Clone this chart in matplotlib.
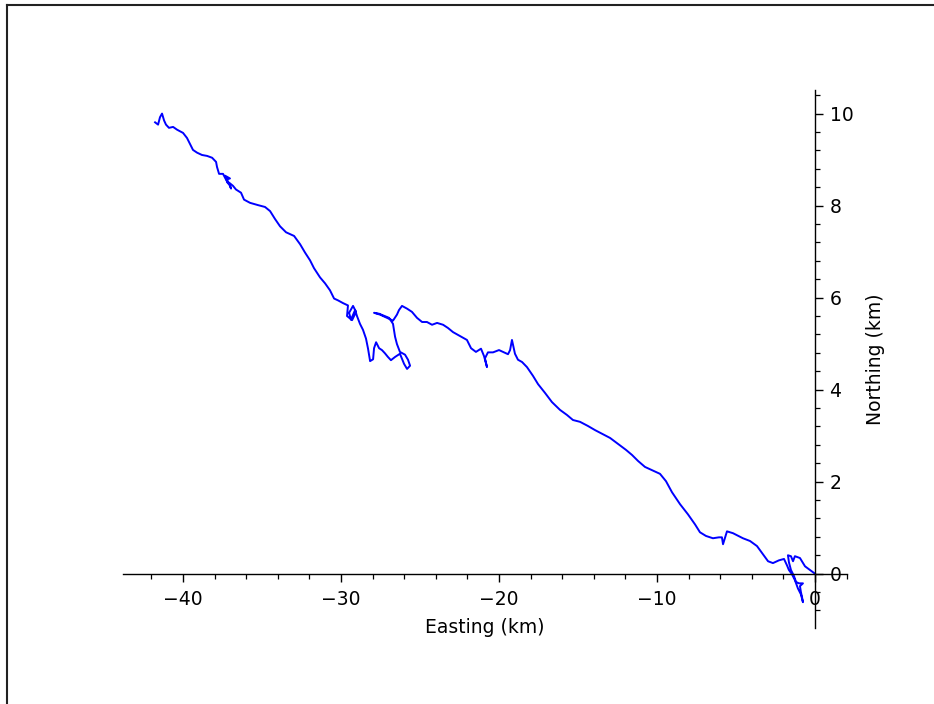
import matplotlib
matplotlib.use("Agg")
import matplotlib.pyplot as plt
from matplotlib.lines import Line2D
from matplotlib.ticker import MultipleLocator

# track, km relative to the origin
easting = [
    0.00, -0.32, -0.63, -0.95, -1.27, -1.39, -1.52, -1.71, -1.65, -1.52,
    -1.33, -1.20, -1.01, -0.76, -0.95, -0.89, -0.82, -0.76, -0.89, -1.08,
    -1.27, -1.46, -1.65, -1.77, -1.96, -2.28, -2.66, -2.97, -3.29, -3.67,
    -4.11, -4.56, -5.19, -5.57, -5.70, -5.82, -5.89, -6.08, -6.46, -6.90,
    -7.28, -7.59, -8.04, -8.54, -9.05, -9.43, -9.81, -10.32, -10.76, -11.20,
    -11.58, -11.96, -12.47, -12.97, -13.48, -13.92, -14.37, -14.87, -15.32, -15.70,
    -16.14, -16.65, -17.09, -17.53, -17.85, -18.23, -18.54, -18.80, -18.99, -19.11,
    -19.18, -19.30, -19.43, -19.68, -20.00, -20.38, -20.70, -20.89, -20.76, -20.95,
    -21.14, -21.46, -21.77, -22.03, -22.34, -22.59, -22.91, -23.23, -23.54, -23.92,
    -24.24, -24.56, -24.87, -25.19, -25.51, -25.82, -26.14, -26.33, -26.46, -26.71,
    -27.09, -27.53, -27.91, -27.59, -26.96, -26.71, -26.58, -26.46, -26.27, -25.95,
    -25.76, -25.63, -25.82, -26.01, -26.27, -26.58, -26.84, -27.03, -27.22, -27.41,
    -27.59, -27.78, -27.91, -27.97, -28.16, -28.29, -28.42, -28.61, -28.80, -28.99,
    -29.11, -29.37, -29.49, -29.24, -29.05, -29.30, -29.62, -29.56, -29.87, -30.19,
    -30.44, -30.70, -31.01, -31.33, -31.71, -31.96, -32.28, -32.59, -32.97, -33.48,
    -33.86, -34.18, -34.49, -34.81, -35.25, -35.76, -36.14, -36.33, -36.65, -36.84,
    -37.09, -36.96, -37.22, -37.03, -37.34, -37.15, -37.47, -37.72, -37.85, -37.91,
    -38.16, -38.48, -38.80, -39.11, -39.37, -39.56, -39.75, -40.00, -40.38, -40.63,
    -40.89, -41.08, -41.20, -41.33, -41.46, -41.58, -41.77,
]
northing = [
    0.00, 0.08, 0.16, 0.34, 0.38, 0.27, 0.38, 0.40, 0.25, 0.08,
    -0.05, -0.18, -0.21, -0.21, -0.27, -0.40, -0.51, -0.62, -0.45, -0.32,
    -0.14, -0.01, 0.08, 0.18, 0.32, 0.29, 0.23, 0.27, 0.42, 0.60,
    0.71, 0.77, 0.88, 0.92, 0.77, 0.64, 0.79, 0.79, 0.77, 0.82,
    0.90, 1.07, 1.29, 1.51, 1.77, 2.01, 2.17, 2.25, 2.32, 2.45,
    2.58, 2.69, 2.82, 2.95, 3.04, 3.12, 3.21, 3.30, 3.34, 3.45,
    3.56, 3.73, 3.93, 4.12, 4.30, 4.49, 4.60, 4.65, 4.78, 4.97,
    5.08, 4.86, 4.77, 4.81, 4.86, 4.81, 4.81, 4.68, 4.49, 4.73,
    4.89, 4.82, 4.90, 5.08, 5.14, 5.19, 5.25, 5.34, 5.41, 5.45,
    5.41, 5.47, 5.47, 5.56, 5.69, 5.76, 5.82, 5.73, 5.63, 5.50,
    5.56, 5.63, 5.67, 5.65, 5.56, 5.43, 5.15, 4.99, 4.82, 4.76,
    4.65, 4.52, 4.45, 4.56, 4.78, 4.71, 4.64, 4.71, 4.79, 4.86,
    4.90, 5.03, 4.90, 4.66, 4.62, 4.89, 5.11, 5.30, 5.43, 5.60,
    5.73, 5.52, 5.67, 5.82, 5.69, 5.51, 5.60, 5.83, 5.88, 5.94,
    5.98, 6.16, 6.31, 6.44, 6.64, 6.81, 6.98, 7.16, 7.34, 7.42,
    7.55, 7.71, 7.88, 7.97, 8.01, 8.06, 8.13, 8.28, 8.35, 8.43,
    8.50, 8.37, 8.57, 8.59, 8.65, 8.48, 8.69, 8.69, 8.84, 8.95,
    9.04, 9.08, 9.10, 9.15, 9.21, 9.34, 9.47, 9.58, 9.65, 9.71,
    9.69, 9.76, 9.85, 10.00, 9.92, 9.76, 9.81,
]

fig = plt.figure(figsize=(9.34, 7.04), dpi=100)
ax = fig.add_axes([0.1317, 0.108, 0.7752, 0.764])

ax.plot(easting, northing, color="#0000ff", lw=1.4)

ax.set_xlim(-43.8, 2.03)
ax.set_ylim(-1.18, 10.51)

# sage style axes crossing at the origin
ax.spines["top"].set_visible(False)
ax.spines["left"].set_visible(False)
ax.spines["bottom"].set_position(("data", 0))
ax.spines["right"].set_position(("data", 0))
for s in ("bottom", "right"):
    ax.spines[s].set_linewidth(1.0)
ax.yaxis.tick_right()
ax.yaxis.set_label_position("right")
ax.xaxis.tick_bottom()

ax.xaxis.set_major_locator(MultipleLocator(10))
ax.xaxis.set_minor_locator(MultipleLocator(2))
ax.yaxis.set_major_locator(MultipleLocator(2))
ax.yaxis.set_minor_locator(MultipleLocator(0.4))
ax.tick_params(which="major", length=5.5, width=1.0, labelsize=13.5)
ax.tick_params(axis="x", which="major", pad=6)
ax.tick_params(axis="y", which="major", pad=5)
ax.tick_params(which="minor", length=3.5, width=0.9)

ax.set_xlabel("Easting (km)", fontsize=13.5, labelpad=7)
ax.set_ylabel("Northing (km)", fontsize=13.5, labelpad=9)

# frame of the original figure (only top and left edges visible)
fig.add_artist(Line2D([0.0072, 1.0], [0.9922, 0.9922], transform=fig.transFigure,
                      color="#222222", lw=1.5))
fig.add_artist(Line2D([0.0072, 0.0072], [0.0, 0.9922], transform=fig.transFigure,
                      color="#222222", lw=1.5))

fig.savefig("out.png", dpi=100)
